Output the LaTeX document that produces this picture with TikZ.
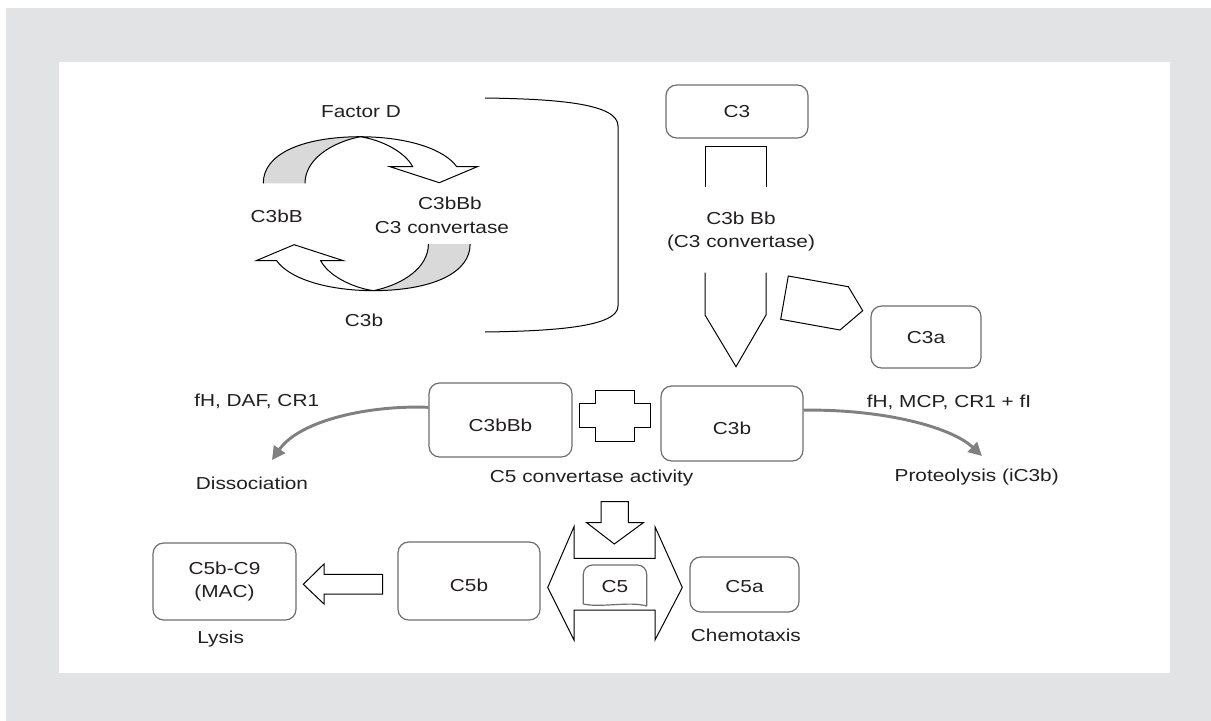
\documentclass[tikz,border=0pt]{standalone}
\usepackage{fontspec}
\setmainfont[FakeStretch=1.2]{Liberation Sans}
\usetikzlibrary{arrows.meta}
\definecolor{bggray}{HTML}{E2E3E5}
\definecolor{lensgray}{HTML}{D9D9D9}
\definecolor{boxc}{HTML}{6D6E70}
\definecolor{conngray}{HTML}{808080}
\definecolor{txtc}{HTML}{231F20}
\tikzset{
  lbl/.style={font=\fontsize{13}{17.25}\selectfont, text=txtc, inner sep=0pt, text height=9.3pt, text depth=0pt},
  lbltwo/.style={font=\fontsize{13}{17.25}\selectfont, text=txtc, inner sep=0pt, align=center},
  boxbase/.style={draw=boxc, line width=0.9pt, rounded corners=8pt, fill=white, font=\fontsize{13}{17.25}\selectfont, text=txtc, inner sep=0pt},
  box/.style={boxbase, text height=9.3pt, text depth=0pt},
  boxline/.style={draw=boxc, line width=0.9pt},
  blk/.style={draw=black, line width=0.75pt, line join=miter},
  conn/.style={draw=conngray, line width=2.2pt, -{Triangle[length=10pt,width=10pt]}},
}
\begin{document}
\begin{tikzpicture}[x=0.75pt,y=-0.75pt]
\useasboundingbox (0,0) rectangle (1211,721);
\fill[white] (0,0) rectangle (1211,721);
\fill[bggray] (6,8) rectangle (1211,721);
\fill[white] (59,62) rectangle (1170,673);

% ---- cycle arrows (upper one, then point-reflected copy)
\foreach \ang in {0,180}{
\begin{scope}[rotate around={\ang:(366.7,213.7)}]
  \fill[lensgray] (263.3,183.3) .. controls (263,155) and (300,137) .. (360,136.7)
        .. controls (330,143) and (305,160) .. (305,183.3) -- cycle;
  \draw[blk] (263.3,183.3) .. controls (263,155) and (300,137) .. (360,136.7);
  \draw[blk] (305,183.3) .. controls (305,160) and (330,143) .. (360,136.7);
  \filldraw[blk, fill=white] (360,136.7) .. controls (410,137) and (445,150) .. (456.7,166.7)
        -- (477.3,166.7) -- (439.3,182.7) -- (390,166.7) -- (412.7,166.7)
        .. controls (405,152) and (382,140) .. (360,136.7);
\end{scope}
}

% ---- bracket
\draw[blk] (485,98) .. controls (560,99) and (618,104) .. (618,126) -- (618,306)
      .. controls (618,326) and (560,331) .. (485,332);

% ---- cycle labels
\node[lbl] (factord) at (361,111) {Factor D};
\node[lbl] (c3bbbl) at (450,203) {C3bBb};
\node[lbl] (c3conv) at (442,227) {C3 convertase};
\node[lbl] (c3bBl) at (276.7,216.7) {C3bB};
\node[lbl] (c3bl) at (364,320) {C3b};

% ---- boxes
\node[box, minimum width=106.5pt, minimum height=39.75pt] (c3) at (737,111.5) {C3};
\node[box, minimum width=82.5pt, minimum height=46.5pt] (c3a) at (926,337) {C3a};
\node[box, minimum width=107.25pt, minimum height=55.5pt, text height=16.8pt] (c3bbb) at (500.5,420) {C3bBb};
\node[box, minimum width=106.5pt, minimum height=56.25pt, text height=16pt] (c3b) at (732,423.5) {C3b};
\node[box, minimum width=106.5pt, minimum height=58.5pt, text height=15.3pt] (c5b) at (469,581) {C5b};
\node[box, minimum width=81.75pt, minimum height=41.25pt, text height=12.3pt] (c5a) at (744.5,584.5) {C5a};
\node[boxbase, minimum width=107.25pt, minimum height=57.75pt, align=center] (mac) at (224.5,581.5) {C5b-C9\\(MAC)};

% ---- C3 -> C3b Bb arrow
\draw[blk] (705,187) -- (705,146.7) -- (766,146.7) -- (766,187);
\draw[blk] (705,272.7) -- (705,315) -- (736,366.7) -- (766,315) -- (766,272.7);
\node[lbltwo] (c3bbbconv) at (741,231.7) {C3b Bb\\(C3 convertase)};

% ---- pentagon to C3a
\draw[blk] (788.3,276) -- (848.3,286.7) -- (862.7,310.7) -- (840,330) -- (780.7,319.3) -- cycle;

% ---- plus
\draw[blk] (595,390.7) -- (634.3,390.7) -- (634.3,403.3) -- (650,403.3) -- (650,427.3)
   -- (634.3,427.3) -- (634.3,441) -- (595,441) -- (595,427.3) -- (579,427.3)
   -- (579,403.3) -- (595,403.3) -- cycle;

% ---- labels around row
\node[lbl] (c5conv) at (591.7,476.7) {C5 convertase activity};
\node[lbl] (fhdaf) at (256.7,400) {fH, DAF, CR1};
\node[lbl] (dissoc) at (252,483) {Dissociation};
\node[lbl] (fhmcp) at (949,401.7) {fH, MCP, CR1 + fI};
\node[lbl] (prot) at (976.7,475) {Proteolysis (iC3b)};
\node[lbl] (lysis) at (220.7,637.3) {Lysis};
\node[lbl, anchor=west] (chemo) at (690.7,635) {Chemotaxis};

% ---- gray curved connectors
\coordinate (disend) at (272,460);
\coordinate (protend) at (982,456);
\draw[conn] ([yshift=9.5pt]c3bbb.west) .. controls (370,405) and (300,420) .. (disend);
\draw[conn] ([yshift=10pt]c3b.east) .. controls (880,409) and (950,426) .. (protend);

% ---- C5 split shape
\draw[blk] (601,501.7) -- (628.3,501.7) -- (628.3,522.7) -- (643.3,522.7) -- (614.3,544)
   -- (586.7,522.7) -- (601,522.7) -- cycle;
\draw[blk] (574,640) -- (574,610) -- (655,610) -- (655,640) -- (682.3,587.5) -- (655,526.7)
   -- (655,558.3) -- (574,558.3) -- (574,526.7) -- (547.7,587.5) -- cycle;
\draw[boxline, rounded corners=7pt] (583.3,604) -- (583.3,565) -- (646.7,565) -- (646.7,606);
\draw[boxline] (583.3,604) .. controls (600,608) and (630,601) .. (646.7,606);
\node[lbl] (c5) at (615,586) {C5};

% ---- C5b -> MAC arrow
\draw[blk] (382.7,574.3) -- (324,574.3) -- (324,564) -- (303.3,584.3) -- (324,604)
   -- (324,594) -- (382.7,594) -- cycle;
\end{tikzpicture}
\end{document}
